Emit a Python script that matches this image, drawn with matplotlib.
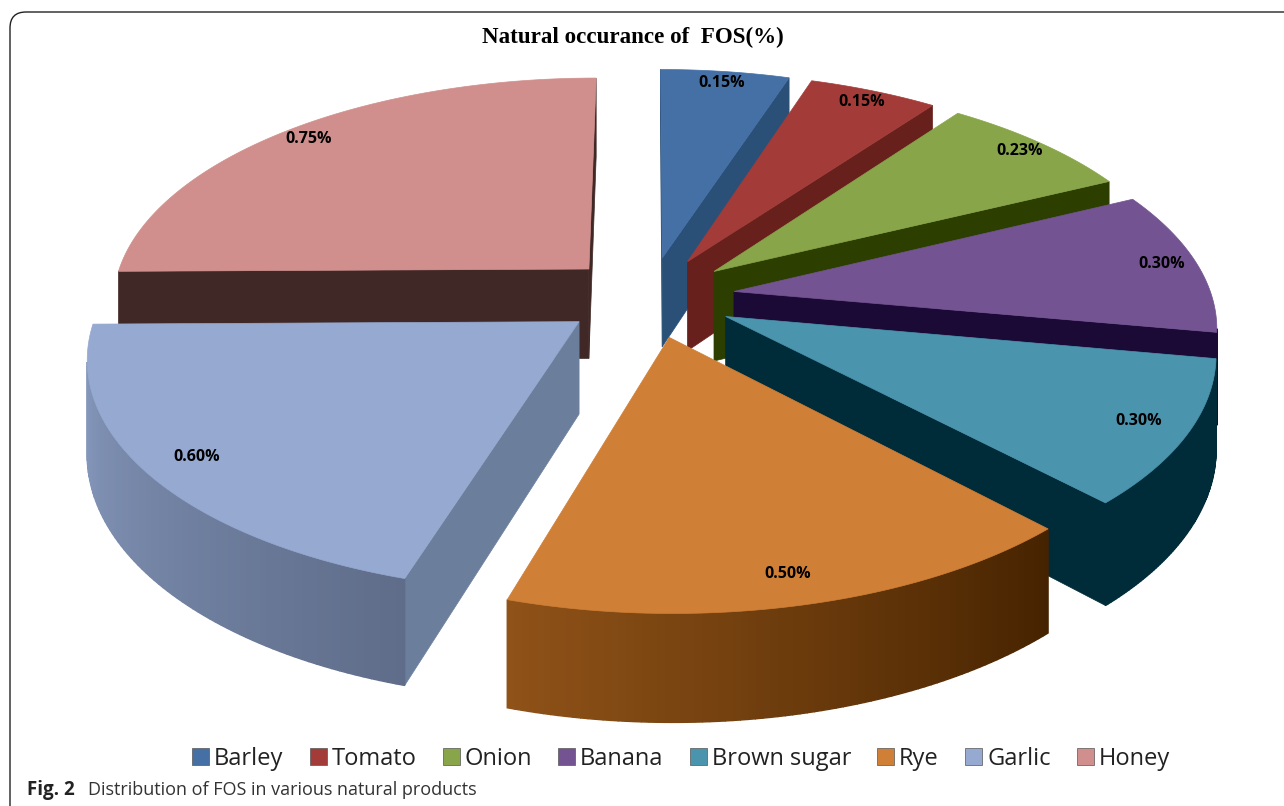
import numpy as np
import matplotlib
matplotlib.use('Agg')
import matplotlib.pyplot as plt
from matplotlib.patches import Polygon, FancyBboxPatch, Patch

categories = ['Barley', 'Tomato', 'Onion', 'Banana', 'Brown sugar', 'Rye', 'Garlic', 'Honey']
values = [0.15, 0.15, 0.23, 0.30, 0.30, 0.50, 0.60, 0.75]
top_colors = ['#4570a6', '#a33c38', '#88a54a', '#735392', '#4b94ae', '#d07f36', '#95a9d1', '#d08f8d']
wall_colors = ['#2a5078', '#68201c', '#2c3f00', '#1b0a36', '#002c3a', '#4a2400', '#6b7f9c', '#402826']
arc_left = ['#2a5078', '#68201c', '#2c3f00', '#1b0a36', '#002c3a', '#8f5218', '#8a9dc2', '#402826']
arc_right = ['#2a5078', '#68201c', '#2c3f00', '#1b0a36', '#002c3a', '#462300', '#5f6d8a', '#402826']

# projection of the pie onto the page, in pixels
cx, cy = 649, 297
rx, ry = 478, 225
persp = 0.14
height = 91
explode = 0.18
label_r = [0.93, 0.93, 0.93, 0.925, 0.90, 0.90, 0.896, 0.93]


def project(X, Y, z):
    s = 1 / (1 + persp * Y)
    return cx + rx * X * s, cy - ry * Y * s + height * z * s


def hexmix(c1, c2, t):
    a = np.array(matplotlib.colors.to_rgb(c1))
    b = np.array(matplotlib.colors.to_rgb(c2))
    return tuple(a + (b - a) * t)


def area(pts):
    x, y = np.array(pts).T
    return 0.5 * np.sum(x * np.roll(y, -1) - np.roll(x, -1) * y)


fig = plt.figure(figsize=(12.84, 8.06), dpi=100)
ax = fig.add_axes([0, 0, 1, 1])
ax.set_xlim(0, 1284)
ax.set_ylim(806, 0)
ax.axis('off')

ax.add_patch(FancyBboxPatch((10, 12), 1400, 900, boxstyle='round,pad=0,rounding_size=16',
                            fc='white', ec='#222222', lw=1))

edges = np.cumsum([0] + values) / sum(values) * 2 * np.pi
mids = (edges[:-1] + edges[1:]) / 2
order = np.argsort(-np.cos(mids))

for i in order:
    a0, a1, m = edges[i], edges[i + 1], mids[i]
    ox, oy = explode * np.sin(m), explode * np.cos(m)
    t = np.linspace(a0, a1, 80)
    X = ox + np.sin(t)
    Y = oy + np.cos(t)
    top = [project(x, y, 0) for x, y in zip(X, Y)]
    bot = [project(x, y, 1) for x, y in zip(X, Y)]
    apex_t = project(ox, oy, 0)
    apex_b = project(ox, oy, 1)
    # radial walls, only the ones that face the viewer
    for quad in ([apex_t, top[0], bot[0], apex_b], [top[-1], apex_t, apex_b, bot[-1]]):
        if area(quad) < 0:
            ax.add_patch(Polygon(quad, fc=wall_colors[i], ec=wall_colors[i], lw=0.5))
    # outer wall, shaded strip by strip
    for j in range(len(t) - 1):
        quad = [top[j], top[j + 1], bot[j + 1], bot[j]]
        if area(quad) < 0:
            # the arc runs clockwise, so the right end comes first on the front half
            c = hexmix(arc_right[i], arc_left[i], j / (len(t) - 2))
            ax.add_patch(Polygon(quad, fc=c, ec=c, lw=1))
    ax.add_patch(Polygon([apex_t] + top, fc=top_colors[i], ec=top_colors[i], lw=0.5))
    lx, ly = project(ox + label_r[i] * np.sin(m), oy + label_r[i] * np.cos(m), 0)
    ax.text(lx, ly, f'{values[i]:.2f}%', ha='center', va='center', fontsize=11.5,
            fontweight='bold', family='Open Sans', color='black')

ax.text(633, 37, 'Natural occurance of  FOS(%)', ha='center', va='center',
        fontsize=16.6, fontweight='bold', family='Liberation Serif')

handles = [Patch(fc=c, ec='#555555', lw=0.5) for c in top_colors]
ax.legend(handles, categories, ncol=8, loc='center', bbox_to_anchor=(681 / 1284, 1 - 759 / 806),
          frameon=False, prop={'family': 'Open Sans', 'size': 17}, handlelength=0.72, handleheight=0.72,
          handletextpad=0.2, columnspacing=1.12, labelcolor='#222222')

ax.text(27, 790, 'Fig. 2', ha='left', va='center', fontsize=13.5, fontweight='bold',
        family='Open Sans', color='#222222')
ax.text(88, 790, 'Distribution of FOS in various natural products', ha='left', va='center',
        fontsize=13, family='Open Sans', color='#333333')

fig.savefig('out.png', dpi=100)
